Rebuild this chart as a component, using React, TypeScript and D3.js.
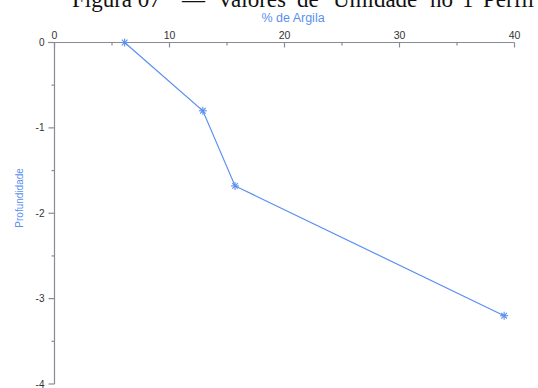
import React from "react";
import * as d3 from "d3";

// Clay content (%) against depth
const clayPct = [6.1, 12.9, 15.7, 39.1];
const depth = [0, -0.8, -1.68, -3.2];
const xMajorTicks = [0, 10, 20, 30, 40];
const xMinorTicks = [5, 15, 25, 35];
const yMajorTicks = [0, -1, -2, -3, -4];
const yMinorTicks = [-0.5, -1.5, -2.5, -3.5];
const titleWords = ["Figura 07", "—", "Valores", "de", "Umidade", "no", "1º", "Perfil"];
const titleWordX = [72, 182, 217, 297, 333, 430, 462, 483];

const W = 538;
const H = 388;
const BLUE = "#5a8ff0";
const AXIS = "#8a8a96";
const TEXT = "#333";

export default function App() {
  const x = d3.scaleLinear().domain([0, 40]).range([54.5, 514.5]);
  const y = d3.scaleLinear().domain([0, -4]).range([42.5, 384]);
  const pts = clayPct.map((v, i) => [x(v), y(depth[i])] as [number, number]);
  const line = d3.line()(pts) ?? "";
  const star = (cx: number, cy: number, k: number) => {
    const r = 4;
    return (
      <g key={k} stroke={BLUE} strokeWidth={1.1}>
        <line x1={cx - r} y1={cy} x2={cx + r} y2={cy} />
        <line x1={cx} y1={cy - r} x2={cx} y2={cy + r} />
        <line x1={cx - r * 0.7} y1={cy - r * 0.7} x2={cx + r * 0.7} y2={cy + r * 0.7} />
        <line x1={cx - r * 0.7} y1={cy + r * 0.7} x2={cx + r * 0.7} y2={cy - r * 0.7} />
      </g>
    );
  };
  return (
    <svg
      width={W}
      height={H}
      style={{ position: "absolute", left: 0, top: 0, background: "#fff" }}
      fontFamily="Liberation Sans, Arial, sans-serif"
    >
      <text y={7} fontFamily="Liberation Serif, serif" fontSize={23} fill="#111">
        {titleWords.map((w, i) => (
          <tspan key={i} x={titleWordX[i]}>
            {w}
          </tspan>
        ))}
      </text>
      <text x={293} y={22} textAnchor="middle" fontSize={12.5} fill={BLUE}>
        % de Argila
      </text>
      <text
        transform={`translate(23, ${y(-1.82)}) rotate(-90)`}
        textAnchor="middle"
        fontSize={10}
        fill={BLUE}
      >
        Profundidade
      </text>

      {/* top x axis */}
      <line x1={48} x2={x(40)} y1={y(0)} y2={y(0)} stroke={AXIS} strokeWidth={1.2} />
      {xMajorTicks.map((t) => (
        <g key={"xm" + t}>
          <line x1={x(t)} x2={x(t)} y1={y(0)} y2={y(0) + 5} stroke={AXIS} strokeWidth={1.2} />
          <text x={x(t)} y={y(0) - 4} textAnchor="middle" fontSize={10.5} fill={TEXT}>
            {t}
          </text>
        </g>
      ))}
      {xMinorTicks.map((t) => (
        <line key={"xn" + t} x1={x(t)} x2={x(t)} y1={y(0)} y2={y(0) + 3} stroke={AXIS} strokeWidth={1.2} />
      ))}

      {/* left y axis */}
      <line x1={x(0)} x2={x(0)} y1={y(0)} y2={y(-4)} stroke={AXIS} strokeWidth={1.2} />
      {yMajorTicks.map((t) => (
        <g key={"ym" + t}>
          <line x1={x(0) - 6} x2={x(0)} y1={y(t)} y2={y(t)} stroke={AXIS} strokeWidth={1.2} />
          <text x={x(0) - 10} y={y(t) + 3.5} textAnchor="end" fontSize={10} fill={TEXT}>
            {t}
          </text>
        </g>
      ))}
      {yMinorTicks.map((t) => (
        <line key={"yn" + t} x1={x(0) - 3} x2={x(0)} y1={y(t)} y2={y(t)} stroke={AXIS} strokeWidth={1.2} />
      ))}

      <path d={line} fill="none" stroke={BLUE} strokeWidth={1.2} />
      {pts.map(([cx, cy], i) => star(cx, cy, i))}
    </svg>
  );
}
